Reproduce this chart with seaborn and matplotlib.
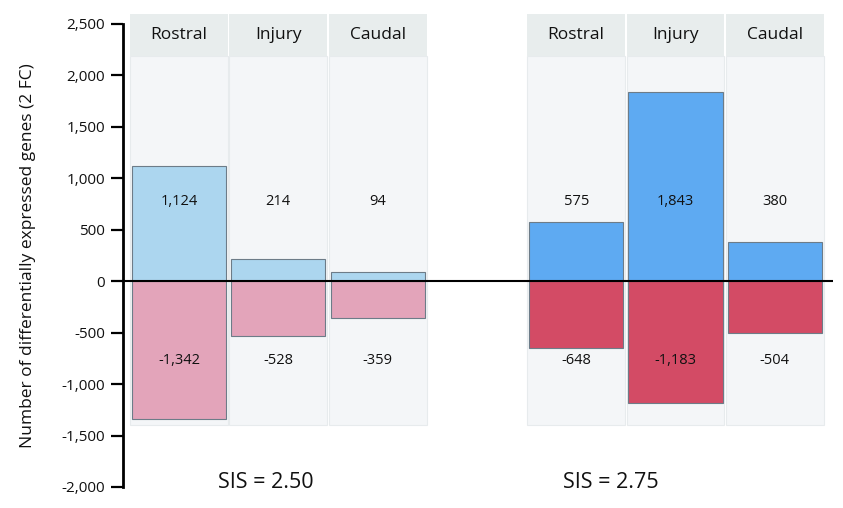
import matplotlib
matplotlib.use("Agg")
import matplotlib.pyplot as plt
import matplotlib.ticker as mticker
from matplotlib.patches import Rectangle
import seaborn as sns
import pandas as pd

# ---- data ----
regions = ["Rostral", "Injury", "Caudal"]
groups = ["SIS = 2.50", "SIS = 2.75"]
up_250 = [1124, 214, 94]
down_250 = [-1342, -528, -359]
up_275 = [575, 1843, 380]
down_275 = [-648, -1183, -504]
yticks = [2500, 2000, 1500, 1000, 500, 0, -500, -1000, -1500, -2000]

slots = [0, 1, 2, 4, 5, 6]
rows = []
for i, r in enumerate(regions):
    rows.append(dict(pos=slots[i], region=r, group=groups[0], up=up_250[i], down=down_250[i]))
for i, r in enumerate(regions):
    rows.append(dict(pos=slots[3 + i], region=r, group=groups[1], up=up_275[i], down=down_275[i]))
df = pd.DataFrame(rows)

sns.set_style("white")
plt.rcParams["font.family"] = ["Open Sans", "DejaVu Sans"]

W, H = 843, 508
fig = plt.figure(figsize=(W / 100, H / 100), dpi=100)
ax_left, ax_right = 123, 833
ax_top, ax_bot = 24, 487
ax = fig.add_axes([ax_left / W, (H - ax_bot) / H, (ax_right - ax_left) / W, (ax_bot - ax_top) / H])

slot_w = 99.3
x0 = -(179 - ax_left) / slot_w
x1 = x0 + (ax_right - ax_left) / slot_w
ax.set_xlim(x0, x1)
ax.set_ylim(-2000, 2500)

# panel backgrounds and headers
panel_w = 0.985
for _, row in df.iterrows():
    p = row["pos"]
    ax.add_patch(Rectangle((p - panel_w / 2, -1400), panel_w, 2189 + 1400,
                           facecolor="#f4f6f8", edgecolor="#e7ebed", lw=0.8, zorder=0))
    ax.add_patch(Rectangle((p - panel_w / 2, 2189), panel_w, 2597 - 2189,
                           facecolor="#e8eded", edgecolor="none", lw=0, zorder=0, clip_on=False))
    ax.text(p, 2393, row["region"], ha="center", va="center", fontsize=12.5, color="#111111")

up_pal = {groups[0]: "#acd6ef", groups[1]: "#5eaaf2"}
down_pal = {groups[0]: "#e3a4ba", groups[1]: "#d34b65"}

sns.barplot(data=df, x="pos", y="up", hue="group", palette=up_pal, native_scale=True,
            width=0.947, dodge=False, legend=False, ax=ax, edgecolor="#6d7c88", linewidth=0.8,
            saturation=1, zorder=2)
sns.barplot(data=df, x="pos", y="down", hue="group", palette=down_pal, native_scale=True,
            width=0.947, dodge=False, legend=False, ax=ax, edgecolor="#6d7c88", linewidth=0.8,
            saturation=1, zorder=2)
ax.set_xlim(x0, x1)
ax.set_ylim(-2000, 2500)

for _, row in df.iterrows():
    ax.text(row["pos"], 775, f"{row['up']:,}", ha="center", va="center", fontsize=10.5, color="#111111", zorder=3)
    ax.text(row["pos"], -770, f"{row['down']:,}", ha="center", va="center",
            fontsize=10.5, color="#111111", zorder=3)

ax.axhline(0, color="black", lw=1.5, zorder=4)

# group labels
ax.text(0.87, -1955, groups[0], ha="center", va="center", fontsize=15.5, color="#111111", clip_on=False)
ax.text(4.35, -1955, groups[1], ha="center", va="center", fontsize=15.5, color="#111111", clip_on=False)

for s in ["top", "right", "bottom"]:
    ax.spines[s].set_visible(False)
ax.spines["left"].set_color("black")
ax.spines["left"].set_linewidth(2)
ax.set_yticks(yticks)
ax.yaxis.set_major_formatter(mticker.FuncFormatter(lambda v, _: f"{int(v):,}"))
ax.tick_params(axis="y", direction="out", length=9, width=1.6, color="black", labelsize=11,
               left=True, labelcolor="#111111", pad=4)
ax.set_xticks([])
ax.set_xlabel("")
ax.set_ylabel("Number of differentially expressed genes (2 FC)", fontsize=12.5, color="#111111", labelpad=18)

fig.savefig("out.png", dpi=100, facecolor="white")
